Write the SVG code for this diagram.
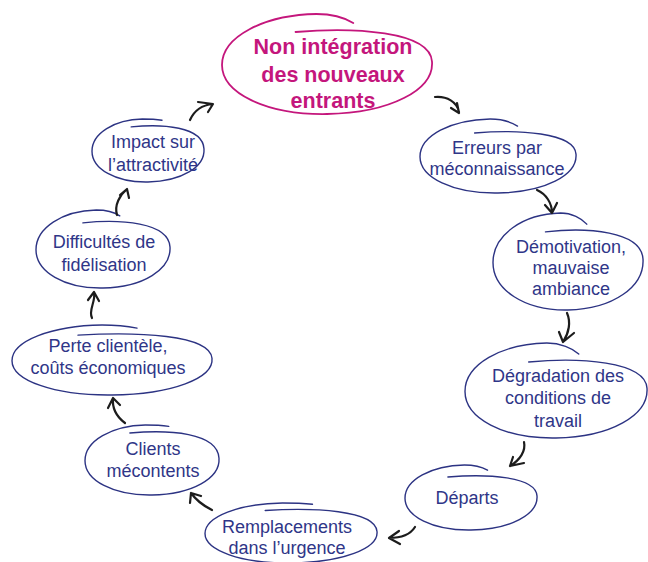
<svg xmlns="http://www.w3.org/2000/svg" width="648" height="562" viewBox="0 0 648 562">
  <defs>
    <style>
      .loop { fill: none; stroke: #2c3383; stroke-width: 1.4; vector-effect: non-scaling-stroke; stroke-linecap: round; }
      .loop.main { stroke: #c4167c; stroke-width: 1.8; }
      .lbl { font-family: "Liberation Sans", Arial, Helvetica, sans-serif; font-size: 18px; fill: #2f3688; text-anchor: middle; }
      .lbl.main { font-size: 21.5px; font-weight: bold; fill: #c4167c; }
      .arrow { fill: none; stroke: #1c1c1c; stroke-width: 2.2; stroke-linecap: round; stroke-linejoin: round; }
    </style>
  </defs>

  <rect width="648" height="562" fill="#ffffff"/>

  <!-- Each bubble is a hand-drawn loop on a unit ellipse (scaled per node):
       it starts inside near the top, runs round clockwise and overshoots above its start. -->

  <g id="node-non-integration">
    <path class="loop main" transform="translate(327,64) scale(105,50)" d="M -0.30,-0.64 C 0.25,-0.74 0.98,-0.66 1,-0.05 C 1.02,0.52 0.6,0.98 0,1 C -0.58,1.02 -1,0.58 -1,0.02 C -1,-0.55 -0.6,-0.98 -0.1,-1 C 0.05,-1 0.18,-0.91 0.25,-0.82"/>
    <text class="lbl main" x="333" y="54">Non intégration</text>
    <text class="lbl main" x="333" y="82">des nouveaux</text>
    <text class="lbl main" x="333" y="108">entrants</text>
  </g>

  <g id="node-erreurs">
    <path class="loop" transform="translate(498,156) scale(78,37)" d="M -0.30,-0.62 C 0.25,-0.72 0.98,-0.64 1,-0.05 C 1.02,0.52 0.6,0.98 0,1 C -0.58,1.02 -1,0.58 -1,0.02 C -1,-0.55 -0.6,-0.98 -0.1,-1 C 0.05,-1 0.18,-0.9 0.25,-0.81"/>
    <text class="lbl" x="497" y="154">Erreurs par</text>
    <text class="lbl" x="497" y="175">méconnaissance</text>
  </g>

  <g id="node-demotivation">
    <path class="loop" transform="translate(568,261.5) scale(75,48.5)" d="M -0.30,-0.61 C 0.25,-0.71 0.98,-0.63 1,-0.05 C 1.02,0.52 0.6,0.98 0,1 C -0.58,1.02 -1,0.58 -1,0.02 C -1,-0.55 -0.6,-0.98 -0.1,-1 C 0.05,-1 0.18,-0.89 0.25,-0.77"/>
    <text class="lbl" x="571" y="253">Démotivation,</text>
    <text class="lbl" x="571" y="274">mauvaise</text>
    <text class="lbl" x="571" y="295">ambiance</text>
  </g>

  <g id="node-degradation">
    <path class="loop" transform="translate(556,390.5) scale(91,47.5)" d="M -0.30,-0.60 C 0.25,-0.70 0.98,-0.62 1,-0.05 C 1.02,0.52 0.6,0.98 0,1 C -0.58,1.02 -1,0.58 -1,0.02 C -1,-0.55 -0.6,-0.98 -0.1,-1 C 0.05,-1 0.18,-0.89 0.25,-0.77"/>
    <text class="lbl" x="558" y="382">Dégradation des</text>
    <text class="lbl" x="558" y="404">conditions de</text>
    <text class="lbl" x="558" y="427">travail</text>
  </g>

  <g id="node-departs">
    <path class="loop" transform="translate(471,497.5) scale(66,32.5)" d="M -0.35,-0.63 C 0.25,-0.73 0.98,-0.65 1,-0.05 C 1.02,0.52 0.6,0.98 0,1 C -0.58,1.02 -1,0.58 -1,0.02 C -1,-0.55 -0.6,-0.98 -0.1,-1 C 0.05,-1 0.18,-0.92 0.25,-0.84"/>
    <text class="lbl" x="467" y="504">Départs</text>
  </g>

  <g id="node-remplacements">
    <path class="loop" transform="translate(291,533) scale(86,30)" d="M -0.30,-0.75 C 0.25,-0.85 0.98,-0.77 1,-0.05 C 1.02,0.52 0.6,0.98 0,1 C -0.58,1.02 -1,0.58 -1,0.02 C -1,-0.55 -0.6,-0.98 -0.1,-1 C 0.05,-1 0.18,-0.98 0.25,-0.96"/>
    <text class="lbl" x="287" y="533">Remplacements</text>
    <text class="lbl" x="287" y="554">dans l’urgence</text>
  </g>

  <g id="node-clients">
    <path class="loop" transform="translate(152,460) scale(67,35)" d="M -0.33,-0.77 C 0.25,-0.87 0.98,-0.79 1,-0.05 C 1.02,0.52 0.6,0.98 0,1 C -0.58,1.02 -1,0.58 -1,0.02 C -1,-0.55 -0.6,-0.98 -0.1,-1 C 0.05,-1 0.18,-0.98 0.25,-0.96"/>
    <text class="lbl" x="153" y="455">Clients</text>
    <text class="lbl" x="153" y="477">mécontents</text>
  </g>

  <g id="node-perte">
    <path class="loop" transform="translate(112,360) scale(100,35)" d="M -0.34,-0.71 C 0.25,-0.81 0.98,-0.73 1,-0.05 C 1.02,0.52 0.6,0.98 0,1 C -0.58,1.02 -1,0.58 -1,0.02 C -1,-0.55 -0.6,-0.98 -0.1,-1 C 0.05,-1 0.18,-0.95 0.25,-0.91"/>
    <text class="lbl" x="108" y="352">Perte clientèle,</text>
    <text class="lbl" x="108" y="374">coûts économiques</text>
  </g>

  <g id="node-difficultes">
    <path class="loop" transform="translate(103,249) scale(67,39)" d="M -0.30,-0.67 C 0.25,-0.77 0.98,-0.69 1,-0.05 C 1.02,0.52 0.6,0.98 0,1 C -0.58,1.02 -1,0.58 -1,0.02 C -1,-0.55 -0.6,-0.98 -0.1,-1 C 0.05,-1 0.18,-0.93 0.25,-0.85"/>
    <text class="lbl" x="104" y="248">Difficultés de</text>
    <text class="lbl" x="104" y="271">fidélisation</text>
  </g>

  <g id="node-impact">
    <path class="loop" transform="translate(148,150.5) scale(56,31.5)" d="M -0.30,-0.75 C 0.25,-0.85 0.98,-0.77 1,-0.05 C 1.02,0.52 0.6,0.98 0,1 C -0.58,1.02 -1,0.58 -1,0.02 C -1,-0.55 -0.6,-0.98 -0.1,-1 C 0.05,-1 0.18,-0.98 0.25,-0.96"/>
    <text class="lbl" x="153" y="148">Impact sur</text>
    <text class="lbl" x="153" y="171">l’attractivité</text>
  </g>

  <g id="connectors">
    <path class="arrow" d="M435,97 C447,96 457,102 459,112 M451,108 L459,113 L457,103"/>
    <path class="arrow" d="M537,190 C546,194 552,203 552,213 M545,205 L552,213 L557,203"/>
    <path class="arrow" d="M567,313 C571,322 569,333 563,342 M559,332 L563,342 L574,333"/>
    <path class="arrow" d="M524,442 C526,451 520,460 510,466 M513,457 L510,466 L524,463"/>
    <path class="arrow" d="M415,527 C410,535 401,538 389,538 M399,531 L389,538 L400,544"/>
    <path class="arrow" d="M212,510 C204,506 196,500 191,493 M190,503 L191,493 L201,496"/>
    <path class="arrow" d="M125,423 C117,417 112,408 113,398 M108,408 L113,398 L120,405"/>
    <path class="arrow" d="M92,318 C88,310 96,302 94,292 M88,300 L94,292 L99,301"/>
    <path class="arrow" d="M117,215 C114,205 120,195 127,189 M120,195 L127,189 L129,198"/>
    <path class="arrow" d="M190,120 C194,111 202,105 213,104 M198,102 L213,104 L208,112"/>
  </g>
</svg>
